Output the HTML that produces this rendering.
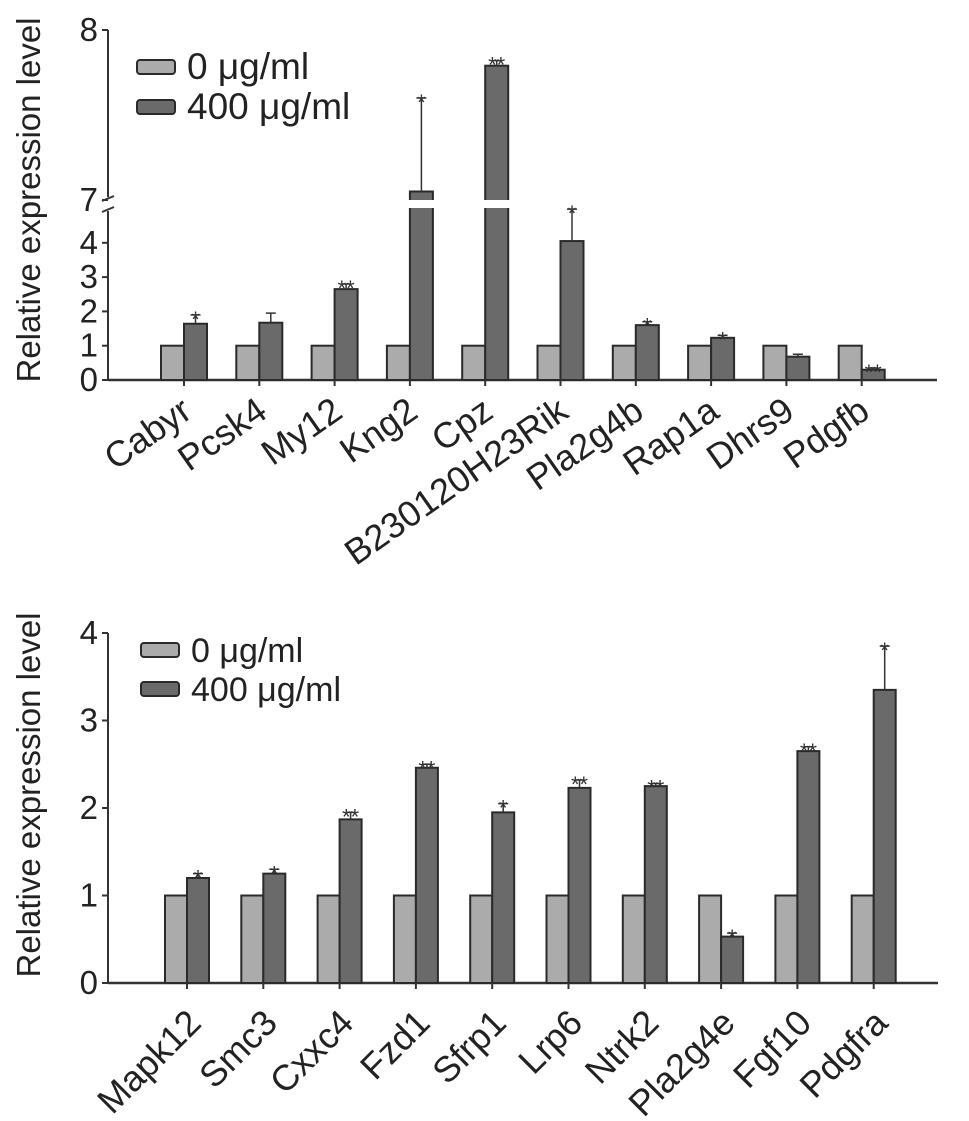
<!DOCTYPE html>
<html><head><meta charset="utf-8"><style>
body{margin:0;background:#fff;}
svg{display:block;font-family:"Liberation Sans",sans-serif;}
</style></head><body>
<svg id="fig" width="969" height="1121" viewBox="0 0 969 1121">
<rect width="969" height="1121" fill="#fff"/>
<g id="top"></g>
<g id="bot"></g>
</svg>
<script>
const topGenes=["Cabyr","Pcsk4","My12","Kng2","Cpz","B230120H23Rik","Pla2g4b","Rap1a","Dhrs9","Pdgfb"];
const topCtrl=[1,1,1,1,1,1,1,1,1,1];
const topTreat=[1.64,1.67,2.65,7.05,7.79,4.15,1.6,1.23,0.68,0.3];
const topErr=[1.9,1.95,2.8,7.6,7.82,6.9,1.7,1.3,0.75,0.35];
const topStars=["*","","**","*","**","*","*","*","","**"];
const topTicks=[0,1,2,3,4,7,8];
const topTickLabels=["0","1","2","3","4","7","8"];

const botGenes=["Mapk12","Smc3","Cxxc4","Fzd1","Sfrp1","Lrp6","Ntrk2","Pla2g4e","Fgf10","Pdgfra"];
const botCtrl=[1,1,1,1,1,1,1,1,1,1];
const botTreat=[1.2,1.25,1.87,2.46,1.95,2.23,2.25,0.53,2.65,3.35];
const botErr=[1.25,1.3,1.95,2.5,2.05,2.32,2.28,0.57,2.7,3.85];
const botStars=["*","*","**","**","*","**","**","*","**","*"];
const botTicks=[0,1,2,3,4];
const botTickLabels=["0","1","2","3","4"];

const NS="http://www.w3.org/2000/svg";
function mk(parent,tag,attrs,text){const e=document.createElementNS(NS,tag);for(const k in attrs)e.setAttribute(k,attrs[k]);if(text!==undefined)e.textContent=text;parent.appendChild(e);return e;}

function drawChart(g,cfg){
  const {genes,ctrl,treat,err,stars,ticks,tickLabels,yScale,axisX,axisY0,axisEnd,x0,pitch,bw,legendY,titleY,breakAxis}=cfg;
  let ax=mk(g,'line',{x1:axisX,y1:axisY0,x2:axisEnd,y2:axisY0,stroke:'#333','stroke-width':2.5});
  
  
  const yTop=yScale(ticks[ticks.length-1]);
  if(breakAxis){
    let a1=mk(g,'line',{x1:axisX,y1:axisY0,x2:axisX,y2:yScale(7,true)+3,stroke:'#333','stroke-width':2});
    
    
    let a2=mk(g,'line',{x1:axisX,y1:yScale(7)-3,x2:axisX,y2:yTop,stroke:'#333','stroke-width':2});
    
    
    let b=mk(g,'path',{d:`M${axisX-6} ${yScale(7)+1}l12 -5M${axisX-6} ${yScale(7,true)+4}l12 -5`,stroke:'#333','stroke-width':2,fill:'none'});
    
    
  } else {
    let a=mk(g,'line',{x1:axisX,y1:axisY0,x2:axisX,y2:yTop,stroke:'#333','stroke-width':2});
    
    
  }
  ticks.forEach((t,i)=>{
    const y=yScale(t);
    let tl=mk(g,'line',{x1:axisX-6,y1:y,x2:axisX,y2:y,stroke:'#333','stroke-width':2});
    
    
    let tx=mk(g,'text',{x:axisX-10,y:y+11,'text-anchor':'end','font-size':cfg.tickFont,fill:'#222'},tickLabels[i]);
    
    
  });
  let title=mk(g,'text',{x:0,y:0,transform:`translate(${cfg.titleX},${titleY}) rotate(-90)`,'text-anchor':'middle','font-size':33,fill:'#222'},'Relative expression level');
  
  
  genes.forEach((name,i)=>{
    const lx=x0+pitch*i, dx=lx+bw;
    let r1=mk(g,'rect',{x:lx,y:yScale(ctrl[i]),width:bw,height:axisY0-yScale(ctrl[i]),fill:'#ababab',stroke:'#2a2a2a','stroke-width':2});
    
    
    const ty=yScale(treat[i]);
    let r2=mk(g,'rect',{x:dx,y:ty,width:bw,height:axisY0-ty,fill:'#6a6a6a',stroke:'#2a2a2a','stroke-width':2});
    
    
    if(breakAxis&&treat[i]>7){
      let gap=mk(g,'rect',{x:dx-2,y:yScale(7),width:bw+4,height:yScale(7,true)-yScale(7),fill:'#fff'});
      
      
    }
    const ey=yScale(err[i]);
    let e=mk(g,'path',{d:`M${dx+bw/2} ${ty}V${ey}M${dx+bw/2-5} ${ey}h10`,stroke:'#333','stroke-width':1.5,fill:'none'});
    
    
    if(stars[i]){
      let s=mk(g,'text',{x:dx+bw/2,y:ey+12,'text-anchor':'middle','font-size':22,fill:'#333'},stars[i]);
      
      
    }
    let tk=mk(g,'line',{x1:dx,y1:axisY0,x2:dx,y2:axisY0+6,stroke:'#333','stroke-width':2});
    
    
    let lab=mk(g,'text',{x:0,y:0,transform:`translate(${dx+cfg.labDx},${axisY0+cfg.labOff}) rotate(${cfg.labRot})`,'text-anchor':'end','font-size':cfg.labFont,fill:'#222'},name);
    
    
  });
  const lg=mk(g,'g',{});
  
  
  [['#ababab','0 μg/ml'],['#6a6a6a','400 μg/ml']].forEach((d,k)=>{
    const y=legendY+k*cfg.legGap;
    let r=mk(lg,'rect',{x:cfg.legX,y:y,width:38,height:14,rx:3,fill:d[0],stroke:'#2a2a2a','stroke-width':2});
    
    
    let t=mk(lg,'text',{x:cfg.legX+50,y:y+19,'font-size':cfg.legFont,fill:'#222'},d[1]);
    
    
  });
}

function topScale(v,lowerSide){
  if(v<=4) return 380-v*34.3;
  if(v<7 || (v===7&&lowerSide)) return 242.8-(v-4)*11.6;
  return 200-(v-7)*170;
}
drawChart(document.getElementById('top'),{genes:topGenes,ctrl:topCtrl,treat:topTreat,err:topErr,stars:topStars,ticks:topTicks,tickLabels:topTickLabels,
  yScale:topScale,axisX:108,axisY0:380,axisEnd:937,x0:161,pitch:75.3,bw:23,legendY:60,legGap:40,legX:137,legFont:37,titleX:40,titleY:200,
  tickFont:33,labFont:36,labOff:36,labDx:10,labRot:-35,breakAxis:true});

function botScale(v){return 983-v*87.5;}
drawChart(document.getElementById('bot'),{genes:botGenes,ctrl:botCtrl,treat:botTreat,err:botErr,stars:botStars,ticks:botTicks,tickLabels:botTickLabels,
  yScale:botScale,axisX:108,axisY0:983,axisEnd:938,x0:165,pitch:76.3,bw:22,legendY:643,legGap:39,legX:141,legFont:34,titleX:40,titleY:795,
  tickFont:33,labFont:36,labOff:42,labDx:16,labRot:-45,breakAxis:false});
</script>
</body></html>
